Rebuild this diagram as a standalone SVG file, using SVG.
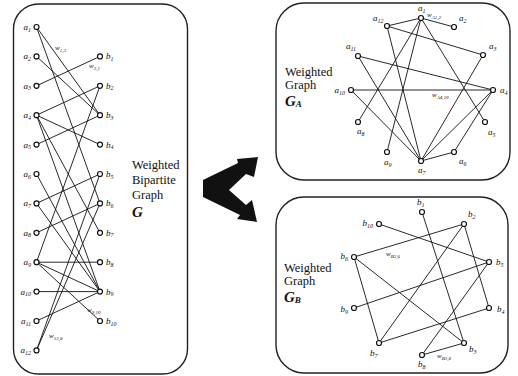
<svg xmlns="http://www.w3.org/2000/svg" width="518" height="376" viewBox="0 0 518 376">
<style>
.panel{fill:none;stroke:#222;stroke-width:1.4}
.e{stroke:#111;stroke-width:0.9;fill:none}
.n{fill:#fff;stroke:#111;stroke-width:1.2}
.lb{font-family:"Liberation Serif",serif;font-style:italic;font-size:9px;fill:#111}
.s{font-size:6px}
.w{font-family:"Liberation Serif",serif;font-style:italic;font-size:7px;fill:#111}
.ws{font-size:5px}
.t{font-family:"Liberation Serif",serif;font-size:12.5px;fill:#111}
.g{font-family:"Liberation Serif",serif;font-style:italic;font-weight:bold;font-size:15px;fill:#111}
.gs{font-size:9px}
</style>
<rect width="518" height="376" fill="#fff"/>

<!-- frames -->
<rect class="panel" x="13.5" y="4" width="174" height="370" rx="25"/>
<rect class="panel" x="276" y="3" width="234" height="177" rx="28"/>
<rect class="panel" x="276" y="197" width="232" height="176" rx="28"/>

<!-- titles -->
<text class="t" x="132" y="169">Weighted</text>
<text class="t" x="132" y="184">Bipartite</text>
<text class="t" x="132" y="199">Graph</text>
<text class="g" x="132" y="217">G</text>

<text class="t" x="285" y="76">Weighted</text>
<text class="t" x="285" y="89">Graph</text>
<text class="g" x="285" y="106">G<tspan class="gs" dy="1">A</tspan></text>

<text class="t" x="284" y="272">Weighted</text>
<text class="t" x="284" y="285">Graph</text>
<text class="g" x="284" y="302">G<tspan class="gs" dy="1">B</tspan></text>

<!-- split arrow -->
<polygon id="split-arrow" fill="#111" points="203,180 238,163 237,159 258,157 254,177 246,174 229,190 246,205 252,200 257,222 237,219 240,215 203,197"/>

<!-- bipartite connectors -->
<g id="bipartite-edges" class="e">
<line x1="36.5" y1="27" x2="100" y2="115.2"/>
<line x1="36.5" y1="27" x2="100" y2="203.4"/>
<line x1="36.5" y1="56.4" x2="100" y2="115.2"/>
<line x1="36.5" y1="85.8" x2="100" y2="56.4"/>
<line x1="36.5" y1="115.2" x2="100" y2="85.8"/>
<line x1="36.5" y1="115.2" x2="100" y2="144.6"/>
<line x1="36.5" y1="115.2" x2="100" y2="232.8"/>
<line x1="36.5" y1="115.2" x2="100" y2="291.6"/>
<line x1="36.5" y1="144.6" x2="100" y2="115.2"/>
<line x1="36.5" y1="174" x2="100" y2="291.6"/>
<line x1="36.5" y1="203.4" x2="100" y2="174"/>
<line x1="36.5" y1="203.4" x2="100" y2="291.6"/>
<line x1="36.5" y1="232.8" x2="100" y2="203.4"/>
<line x1="36.5" y1="262.2" x2="100" y2="262.2"/>
<line x1="36.5" y1="262.2" x2="100" y2="291.6"/>
<line x1="36.5" y1="262.2" x2="100" y2="321"/>
<line x1="36.5" y1="262.2" x2="100" y2="85.8"/>
<line x1="36.5" y1="291.6" x2="100" y2="291.6"/>
<line x1="36.5" y1="321" x2="100" y2="291.6"/>
<line x1="36.5" y1="350.4" x2="100" y2="174"/>
<line x1="36.5" y1="350.4" x2="100" y2="203.4"/>
</g>

<!-- bipartite nodes -->
<g id="a1"><circle class="n" cx="36.5" cy="27" r="2.5"/><text class="lb" x="31" y="30" text-anchor="end">a<tspan class="s" dy="1.5">1</tspan></text></g>
<g id="a2"><circle class="n" cx="36.5" cy="56.4" r="2.5"/><text class="lb" x="31" y="59.4" text-anchor="end">a<tspan class="s" dy="1.5">2</tspan></text></g>
<g id="a3"><circle class="n" cx="36.5" cy="85.8" r="2.5"/><text class="lb" x="31" y="88.8" text-anchor="end">a<tspan class="s" dy="1.5">3</tspan></text></g>
<g id="a4"><circle class="n" cx="36.5" cy="115.2" r="2.5"/><text class="lb" x="31" y="118.2" text-anchor="end">a<tspan class="s" dy="1.5">4</tspan></text></g>
<g id="a5"><circle class="n" cx="36.5" cy="144.6" r="2.5"/><text class="lb" x="31" y="147.6" text-anchor="end">a<tspan class="s" dy="1.5">5</tspan></text></g>
<g id="a6"><circle class="n" cx="36.5" cy="174" r="2.5"/><text class="lb" x="31" y="177" text-anchor="end">a<tspan class="s" dy="1.5">6</tspan></text></g>
<g id="a7"><circle class="n" cx="36.5" cy="203.4" r="2.5"/><text class="lb" x="31" y="206.4" text-anchor="end">a<tspan class="s" dy="1.5">7</tspan></text></g>
<g id="a8"><circle class="n" cx="36.5" cy="232.8" r="2.5"/><text class="lb" x="31" y="235.8" text-anchor="end">a<tspan class="s" dy="1.5">8</tspan></text></g>
<g id="a9"><circle class="n" cx="36.5" cy="262.2" r="2.5"/><text class="lb" x="31" y="265.2" text-anchor="end">a<tspan class="s" dy="1.5">9</tspan></text></g>
<g id="a10"><circle class="n" cx="36.5" cy="291.6" r="2.5"/><text class="lb" x="31" y="294.6" text-anchor="end">a<tspan class="s" dy="1.5">10</tspan></text></g>
<g id="a11"><circle class="n" cx="36.5" cy="321" r="2.5"/><text class="lb" x="31" y="324" text-anchor="end">a<tspan class="s" dy="1.5">11</tspan></text></g>
<g id="a12"><circle class="n" cx="36.5" cy="350.4" r="2.5"/><text class="lb" x="31" y="353.4" text-anchor="end">a<tspan class="s" dy="1.5">12</tspan></text></g>

<g id="b1"><circle class="n" cx="100" cy="56.4" r="2.5"/><text class="lb" x="106" y="59.4">b<tspan class="s" dy="1.5">1</tspan></text></g>
<g id="b2"><circle class="n" cx="100" cy="85.8" r="2.5"/><text class="lb" x="106" y="88.8">b<tspan class="s" dy="1.5">2</tspan></text></g>
<g id="b3"><circle class="n" cx="100" cy="115.2" r="2.5"/><text class="lb" x="106" y="118.2">b<tspan class="s" dy="1.5">3</tspan></text></g>
<g id="b4"><circle class="n" cx="100" cy="144.6" r="2.5"/><text class="lb" x="106" y="147.6">b<tspan class="s" dy="1.5">4</tspan></text></g>
<g id="b5"><circle class="n" cx="100" cy="174" r="2.5"/><text class="lb" x="106" y="177">b<tspan class="s" dy="1.5">5</tspan></text></g>
<g id="b6"><circle class="n" cx="100" cy="203.4" r="2.5"/><text class="lb" x="106" y="206.4">b<tspan class="s" dy="1.5">6</tspan></text></g>
<g id="b7"><circle class="n" cx="100" cy="232.8" r="2.5"/><text class="lb" x="106" y="235.8">b<tspan class="s" dy="1.5">7</tspan></text></g>
<g id="b8"><circle class="n" cx="100" cy="262.2" r="2.5"/><text class="lb" x="106" y="265.2">b<tspan class="s" dy="1.5">8</tspan></text></g>
<g id="b9"><circle class="n" cx="100" cy="291.6" r="2.5"/><text class="lb" x="106" y="294.6">b<tspan class="s" dy="1.5">9</tspan></text></g>
<g id="b10"><circle class="n" cx="100" cy="321" r="2.5"/><text class="lb" x="106" y="324">b<tspan class="s" dy="1.5">10</tspan></text></g>

<!-- bipartite weights -->
<text class="w" x="55" y="50">w<tspan class="ws" dy="1.5">1,3</tspan></text>
<text class="w" x="89" y="68">w<tspan class="ws" dy="1.5">3,1</tspan></text>
<text class="w" x="87" y="312">w<tspan class="ws" dy="1.5">9,10</tspan></text>
<text class="w" x="49" y="338">w<tspan class="ws" dy="1.5">12,8</tspan></text>

<!-- graph A connectors -->
<g id="graph-a-edges" class="e">
<line x1="421" y1="18" x2="387" y2="26"/>
<line x1="421" y1="18" x2="454" y2="27"/>
<line x1="387" y1="26" x2="483" y2="55"/>
<line x1="387" y1="26" x2="421" y2="161"/>
<line x1="358" y1="56" x2="493" y2="90"/>
<line x1="358" y1="56" x2="421" y2="161"/>
<line x1="351" y1="90" x2="493" y2="90"/>
<line x1="351" y1="90" x2="421" y2="161"/>
<line x1="358" y1="122" x2="421" y2="18"/>
<line x1="387" y1="152" x2="421" y2="18"/>
<line x1="421" y1="18" x2="485" y2="122"/>
<line x1="483" y1="55" x2="421" y2="161"/>
<line x1="493" y1="90" x2="421" y2="161"/>
<line x1="493" y1="90" x2="454" y2="152"/>
<line x1="454" y1="152" x2="421" y2="161"/>
</g>

<g id="A1"><circle class="n" cx="421" cy="18" r="2.5"/><text class="lb" x="418" y="11">a<tspan class="s" dy="1.5">1</tspan></text></g>
<g id="A2"><circle class="n" cx="454" cy="27" r="2.5"/><text class="lb" x="459" y="21">a<tspan class="s" dy="1.5">2</tspan></text></g>
<g id="A3"><circle class="n" cx="483" cy="55" r="2.5"/><text class="lb" x="489" y="49">a<tspan class="s" dy="1.5">3</tspan></text></g>
<g id="A4"><circle class="n" cx="493" cy="90" r="2.5"/><text class="lb" x="500" y="93">a<tspan class="s" dy="1.5">4</tspan></text></g>
<g id="A5"><circle class="n" cx="485" cy="122" r="2.5"/><text class="lb" x="488" y="135">a<tspan class="s" dy="1.5">5</tspan></text></g>
<g id="A6"><circle class="n" cx="454" cy="152" r="2.5"/><text class="lb" x="459" y="164">a<tspan class="s" dy="1.5">6</tspan></text></g>
<g id="A7"><circle class="n" cx="421" cy="161" r="2.5"/><text class="lb" x="418" y="173">a<tspan class="s" dy="1.5">7</tspan></text></g>
<g id="A8"><circle class="n" cx="358" cy="122" r="2.5"/><text class="lb" x="357" y="134">a<tspan class="s" dy="1.5">8</tspan></text></g>
<g id="A9"><circle class="n" cx="387" cy="152" r="2.5"/><text class="lb" x="384" y="165">a<tspan class="s" dy="1.5">9</tspan></text></g>
<g id="A10"><circle class="n" cx="351" cy="90" r="2.5"/><text class="lb" x="345" y="93" text-anchor="end">a<tspan class="s" dy="1.5">10</tspan></text></g>
<g id="A11"><circle class="n" cx="358" cy="56" r="2.5"/><text class="lb" x="346" y="49">a<tspan class="s" dy="1.5">11</tspan></text></g>
<g id="A12"><circle class="n" cx="387" cy="26" r="2.5"/><text class="lb" x="373" y="21">a<tspan class="s" dy="1.5">12</tspan></text></g>

<text class="w" x="427" y="17">w<tspan class="ws" dy="1.5">A1,2</tspan></text>
<text class="w" x="432" y="97">w<tspan class="ws" dy="1.5">A4,10</tspan></text>

<!-- graph B connectors -->
<g id="graph-b-edges" class="e">
<line x1="379" y1="224" x2="489" y2="262"/>
<line x1="422" y1="212" x2="464" y2="343"/>
<line x1="464" y1="224" x2="489" y2="308"/>
<line x1="464" y1="224" x2="354" y2="257"/>
<line x1="464" y1="224" x2="379" y2="343"/>
<line x1="354" y1="257" x2="379" y2="343"/>
<line x1="354" y1="257" x2="464" y2="343"/>
<line x1="354" y1="308" x2="489" y2="262"/>
<line x1="379" y1="343" x2="489" y2="308"/>
<line x1="422" y1="355" x2="489" y2="262"/>
<line x1="422" y1="355" x2="464" y2="343"/>
</g>

<g id="B1"><circle class="n" cx="422" cy="212" r="2.5"/><text class="lb" x="417" y="205">b<tspan class="s" dy="1.5">1</tspan></text></g>
<g id="B2"><circle class="n" cx="464" cy="224" r="2.5"/><text class="lb" x="468" y="217">b<tspan class="s" dy="1.5">2</tspan></text></g>
<g id="B3"><circle class="n" cx="464" cy="343" r="2.5"/><text class="lb" x="469" y="352">b<tspan class="s" dy="1.5">3</tspan></text></g>
<g id="B4"><circle class="n" cx="489" cy="308" r="2.5"/><text class="lb" x="497" y="312">b<tspan class="s" dy="1.5">4</tspan></text></g>
<g id="B5"><circle class="n" cx="489" cy="262" r="2.5"/><text class="lb" x="496" y="265">b<tspan class="s" dy="1.5">5</tspan></text></g>
<g id="B6"><circle class="n" cx="354" cy="257" r="2.5"/><text class="lb" x="348" y="259" text-anchor="end">b<tspan class="s" dy="1.5">6</tspan></text></g>
<g id="B7"><circle class="n" cx="379" cy="343" r="2.5"/><text class="lb" x="370" y="356">b<tspan class="s" dy="1.5">7</tspan></text></g>
<g id="B8"><circle class="n" cx="422" cy="355" r="2.5"/><text class="lb" x="418" y="367">b<tspan class="s" dy="1.5">8</tspan></text></g>
<g id="B9"><circle class="n" cx="354" cy="308" r="2.5"/><text class="lb" x="348" y="312" text-anchor="end">b<tspan class="s" dy="1.5">9</tspan></text></g>
<g id="B10"><circle class="n" cx="379" cy="224" r="2.5"/><text class="lb" x="373" y="226" text-anchor="end">b<tspan class="s" dy="1.5">10</tspan></text></g>

<text class="w" x="386" y="256">w<tspan class="ws" dy="1.5">B2,6</tspan></text>
<text class="w" x="437" y="358">w<tspan class="ws" dy="1.5">B3,8</tspan></text>
</svg>
